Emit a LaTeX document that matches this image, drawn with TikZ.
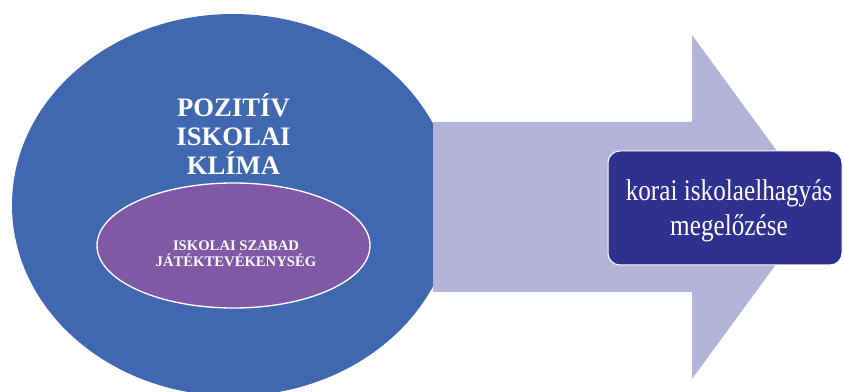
\documentclass[tikz,border=0pt]{standalone}
\usepackage{fontspec}
\setmainfont{Liberation Serif}
\newfontfamily\narrowserif[FakeStretch=0.84]{Liberation Serif}

\definecolor{klimablue}{RGB}{64,104,176}
\definecolor{arrowlilac}{RGB}{180,180,218}
\definecolor{jatekpurple}{RGB}{127,88,166}
\definecolor{boxnavy}{RGB}{46,49,144}

\tikzset{every picture/.style={line width=0.75pt}}
\tikzset{
  klima text/.style={inner sep=0pt, align=center, text=white, font=\bfseries\fontsize{20}{21.75}\selectfont},
  jatek text/.style={inner sep=0pt, align=center, text=white, font=\bfseries\fontsize{11}{12}\selectfont},
  cel text/.style={inner sep=0pt, align=center, text=white, font=\narrowserif\fontsize{22.5}{26.25}\selectfont}
}

\begin{document}
\begin{tikzpicture}[x=0.75pt,y=0.75pt,yscale=-1,xscale=1]
\useasboundingbox (0,0) rectangle (844,392);

%Shape: Ellipse [id:klima]
\fill [klimablue] (233,205) ellipse (221 and 191);
%Shape: Right Arrow [id:nyil]
\fill [arrowlilac] (433,122) -- (692,122) -- (692,35) -- (818,207) -- (692,379) -- (692,292) -- (433,292) -- cycle ;
%Shape: Ellipse [id:jatek]
\filldraw [draw=white, fill=jatekpurple, line width=1] (233.5,245.5) ellipse (136.5 and 62.5);
%Shape: Rectangle [id:cel]
\filldraw [draw=white, fill=boxnavy, rounded corners=9pt] (608,151) rectangle (842,265);

% Text Node
\draw (233.5,134) node [klima text] (klimaszoveg) {POZITÍV\\ISKOLAI\\KLÍMA};
% Text Node
\draw (236,254) node [jatek text] (jatekszoveg) {ISKOLAI SZABAD\\JÁTÉKTEVÉKENYSÉG};
% Text Node
\draw (729,210.5) node [cel text] (celszoveg) {korai iskolaelhagyás\\megelőzése};

\end{tikzpicture}
\end{document}
